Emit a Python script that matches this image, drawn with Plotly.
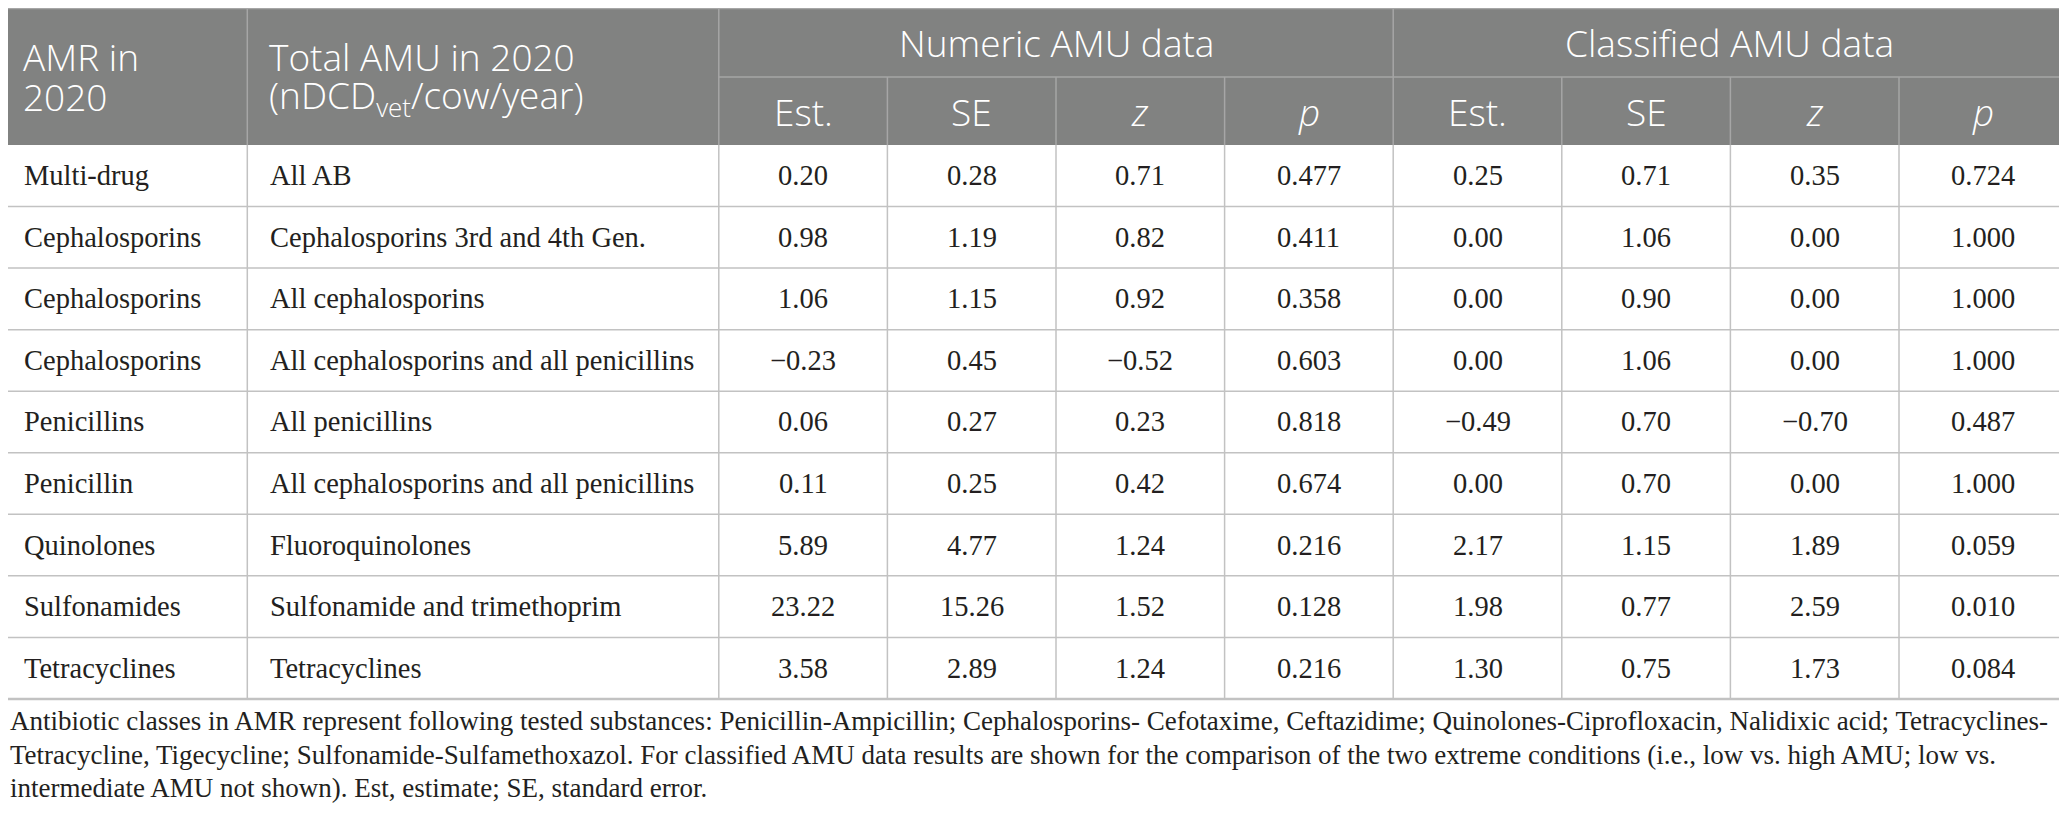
import plotly.graph_objects as go

# table contents
amr_class = ["Multi-drug", "Cephalosporins", "Cephalosporins", "Cephalosporins", "Penicillins",
             "Penicillin", "Quinolones", "Sulfonamides", "Tetracyclines"]
amu_total = ["All AB", "Cephalosporins 3rd and 4th Gen.", "All cephalosporins",
             "All cephalosporins and all penicillins", "All penicillins",
             "All cephalosporins and all penicillins", "Fluoroquinolones",
             "Sulfonamide and trimethoprim", "Tetracyclines"]
num_est = [0.20, 0.98, 1.06, -0.23, 0.06, 0.11, 5.89, 23.22, 3.58]
num_se = [0.28, 1.19, 1.15, 0.45, 0.27, 0.25, 4.77, 15.26, 2.89]
num_z = [0.71, 0.82, 0.92, -0.52, 0.23, 0.42, 1.24, 1.52, 1.24]
num_p = [0.477, 0.411, 0.358, 0.603, 0.818, 0.674, 0.216, 0.128, 0.216]
cls_est = [0.25, 0.00, 0.00, 0.00, -0.49, 0.00, 2.17, 1.98, 1.30]
cls_se = [0.71, 1.06, 0.90, 1.06, 0.70, 0.70, 1.15, 0.77, 0.75]
cls_z = [0.35, 0.00, 0.00, 0.00, -0.70, 0.00, 1.89, 2.59, 1.73]
cls_p = [0.724, 1.000, 1.000, 1.000, 0.487, 1.000, 0.059, 0.010, 0.084]

hdr_left = [["AMR in", "2020"], ["Total AMU in 2020", "(nDCD<sub>vet</sub>/cow/year)"]]
hdr_groups = ["Numeric AMU data", "Classified AMU data"]
hdr_sub = ["Est.", "SE", "<i>z</i>", "<i>p</i>"]

footnote = [
    "Antibiotic classes in AMR represent following tested substances: Penicillin-Ampicillin; Cephalosporins- Cefotaxime, Ceftazidime; Quinolones-Ciprofloxacin, Nalidixic acid; Tetracyclines-",
    "Tetracycline, Tigecycline; Sulfonamide-Sulfamethoxazol. For classified AMU data results are shown for the comparison of the two extreme conditions (i.e., low vs. high AMU; low vs.",
    "intermediate AMU not shown). Est, estimate; SE, standard error.",
]

# grid geometry in screen pixels (page body has an 8px margin, so axes start at 8)
W, H = 2067, 830
OFF = 8
col_w = [246.5, 471.5] + [168.6] * 8
col_x = [0.8]
for w in col_w:
    col_x.append(col_x[-1] + w)
col_x[-1] = W - 1
top, hdr_mid, hdr_bot, row_h = 8.5, 77, 145, 61.55
row_y = [hdr_bot + i * row_h for i in range(len(amr_class) + 1)]

HDR_BG = "#818281"
GRID = "#c2c2c2"
HDR_LINE = "#a6a6a6"
SERIF = "Liberation Serif"
SANS = "Open Sans"


def fmt(v, d):
    s = f"{abs(v):.{d}f}"
    return ("\u2212" + s) if v < 0 else s


shapes = []
annotations = []

# header block
shapes.append(dict(type="rect", x0=col_x[0], x1=col_x[-1], y0=top, y1=hdr_bot,
                   fillcolor=HDR_BG, line=dict(width=0), layer="below"))
shapes.append(dict(type="line", x0=col_x[0], x1=col_x[-1], y0=top, y1=top,
                   line=dict(color=HDR_LINE, width=1.5)))
shapes.append(dict(type="line", x0=col_x[2], x1=col_x[-1], y0=hdr_mid, y1=hdr_mid,
                   line=dict(color=HDR_LINE, width=1.5)))
for i in range(len(col_x)):
    full = i in (0, 1, 2, 6, 10)
    shapes.append(dict(type="line", x0=col_x[i], x1=col_x[i], y0=top if full else hdr_mid, y1=hdr_bot,
                       line=dict(color=HDR_LINE, width=1.5)))

hdr_font = dict(family=SANS, size=37, color="white", weight=300)
hc = (top + hdr_bot) / 2
for c, lines in enumerate(hdr_left):
    for k, txt in enumerate(lines):
        annotations.append(dict(x=col_x[c] + 20, y=hc + (k - 0.5) * 40, text=txt,
                                xanchor="left", yanchor="middle", showarrow=False, font=hdr_font))
for g, txt in enumerate(hdr_groups):
    x0, x1 = col_x[2 + 4 * g], col_x[6 + 4 * g]
    annotations.append(dict(x=(x0 + x1) / 2, y=(top + hdr_mid) / 2, text=txt,
                            xanchor="center", yanchor="middle", showarrow=False, font=hdr_font))
    for j, sub in enumerate(hdr_sub):
        c = 2 + 4 * g + j
        annotations.append(dict(x=(col_x[c] + col_x[c + 1]) / 2, y=(hdr_mid + hdr_bot) / 2, text=sub,
                                xanchor="center", yanchor="middle", showarrow=False, font=hdr_font))

# body grid
for r in range(1, len(row_y)):
    shapes.append(dict(type="line", x0=col_x[0], x1=col_x[-1], y0=row_y[r], y1=row_y[r],
                       line=dict(color=GRID, width=1.5 if r < len(row_y) - 1 else 2.5)))
for i in range(len(col_x)):
    shapes.append(dict(type="line", x0=col_x[i], x1=col_x[i], y0=hdr_bot, y1=row_y[-1],
                       line=dict(color=GRID, width=1.5)))

body_font = dict(family=SERIF, size=28.5, color="#231f20")
columns = [num_est, num_se, num_z, num_p, cls_est, cls_se, cls_z, cls_p]
digits = [2, 2, 2, 3, 2, 2, 2, 3]
for r in range(len(amr_class)):
    yc = (row_y[r] + row_y[r + 1]) / 2
    for c, txt in enumerate([amr_class[r], amu_total[r]]):
        annotations.append(dict(x=col_x[c] + 21, y=yc, text=txt, xanchor="left", yanchor="middle",
                                showarrow=False, font=body_font))
    for j, (vals, d) in enumerate(zip(columns, digits)):
        c = 2 + j
        annotations.append(dict(x=(col_x[c] + col_x[c + 1]) / 2, y=yc, text=fmt(vals[r], d),
                                xanchor="center", yanchor="middle", showarrow=False, font=body_font))

# footnote (paper-anchored so it is not hidden left of the axis range)
for k, line in enumerate(footnote):
    annotations.append(dict(xref="paper", x=0, y=721 + k * 33.5, text=line,
                            xanchor="left", yanchor="middle", showarrow=False,
                            font=dict(family=SERIF, size=27, color="#231f20")))

fig = go.Figure()
fig.update_layout(
    width=W - OFF, height=H - OFF,
    margin=dict(l=0, r=0, t=0, b=0),
    paper_bgcolor="white", plot_bgcolor="white",
    xaxis=dict(range=[OFF, W], visible=False, fixedrange=True),
    yaxis=dict(range=[H, OFF], visible=False, fixedrange=True),
    shapes=shapes, annotations=annotations,
    showlegend=False,
)
fig.write_html("out.html")
